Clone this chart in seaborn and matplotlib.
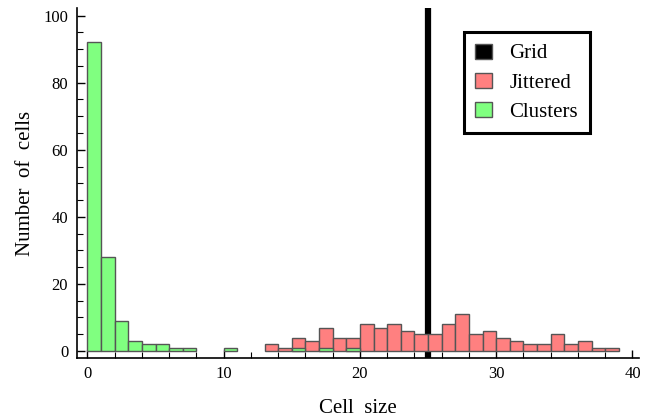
import numpy as np
import pandas as pd
import matplotlib
matplotlib.use("Agg")
import matplotlib.pyplot as plt
import seaborn as sns
from matplotlib.patches import Patch
from matplotlib.ticker import MultipleLocator

# ---- data (bin width 1) ----
cluster_bins = [0, 1, 2, 3, 4, 5, 6, 7, 10, 15, 17, 19]
cluster_counts = [92, 28, 9, 3, 2, 2, 1, 1, 1, 1, 1, 1]

jitter_bins = [13, 14, 15, 16, 17, 18, 19, 20, 21, 22, 23, 24, 25,
               26, 27, 28, 29, 30, 31, 32, 33, 34, 35, 36, 37, 38]
jitter_counts = [2, 1, 4, 3, 7, 4, 4, 8, 7, 8, 6, 5, 5,
                 8, 11, 5, 6, 4, 3, 2, 2, 5, 2, 3, 1, 1]

grid_size = 25
legend_labels = ["Grid", "Jittered", "Clusters"]

df_j = pd.DataFrame({"size": np.array(jitter_bins, float) + 0.5,
                     "count": np.array(jitter_counts, float)})
df_c = pd.DataFrame({"size": np.array(cluster_bins, float) + 0.5,
                     "count": np.array(cluster_counts, float)})

sns.set_style("white")
plt.rcParams["font.family"] = ["Liberation Serif", "DejaVu Serif"]
plt.rcParams["text.color"] = "black"
plt.rcParams["axes.labelcolor"] = "black"

fig = plt.figure(figsize=(6.49, 4.18), dpi=100)
ax = fig.add_axes([0.118, 0.1435, 0.867, 0.8375])

ax.axvline(grid_size, color="black", lw=4.5, zorder=1)

sns.histplot(data=df_j, x="size", weights="count", binwidth=1, binrange=(0, 40),
             ax=ax, color="#FF8080", edgecolor="#555555", linewidth=1.0,
             alpha=1, zorder=2)
sns.histplot(data=df_c, x="size", weights="count", binwidth=1, binrange=(0, 40),
             ax=ax, color="#80FF80", edgecolor="#555555", linewidth=1.0,
             alpha=1, zorder=3)

# hide empty bins (no outline drawn for zero counts)
for p in list(ax.patches):
    if p.get_height() == 0:
        p.remove()

ax.set_xlim(-0.8, 40.5)
ax.set_ylim(-2.1, 102.3)
ax.xaxis.set_major_locator(MultipleLocator(10))
ax.xaxis.set_minor_locator(MultipleLocator(2))
ax.yaxis.set_major_locator(MultipleLocator(20))
ax.yaxis.set_minor_locator(MultipleLocator(5))
ax.tick_params(axis="both", which="major", direction="in", length=6, width=1,
               labelsize=12, color="black", labelcolor="black", pad=6)
ax.tick_params(axis="both", which="minor", direction="in", length=4, width=0.8,
               color="black")
ax.tick_params(axis="x", which="both", bottom=True, top=False)
ax.tick_params(axis="y", which="both", left=True, right=False)
for s in ["top", "right"]:
    ax.spines[s].set_visible(False)
for s in ["left", "bottom"]:
    ax.spines[s].set_color("black")
    ax.spines[s].set_linewidth(1.2)

ax.set_xlabel("Cell  size", fontsize=15, labelpad=12)
ax.set_ylabel("Number  of  cells", fontsize=15, labelpad=6)

handles = [Patch(facecolor="black", edgecolor="#555555"),
           Patch(facecolor="#FF8080", edgecolor="#555555"),
           Patch(facecolor="#80FF80", edgecolor="#555555")]
leg = ax.legend(handles, legend_labels, loc="upper left",
                bbox_to_anchor=(0.688, 0.931), fontsize=15, frameon=True,
                fancybox=False, framealpha=1, handlelength=0.8, handleheight=0.75,
                handletextpad=0.85, borderpad=0.55, labelspacing=0.45,
                borderaxespad=0)
leg.get_frame().set_edgecolor("black")
leg.get_frame().set_linewidth(2.2)

fig.savefig("out.png", dpi=100)
